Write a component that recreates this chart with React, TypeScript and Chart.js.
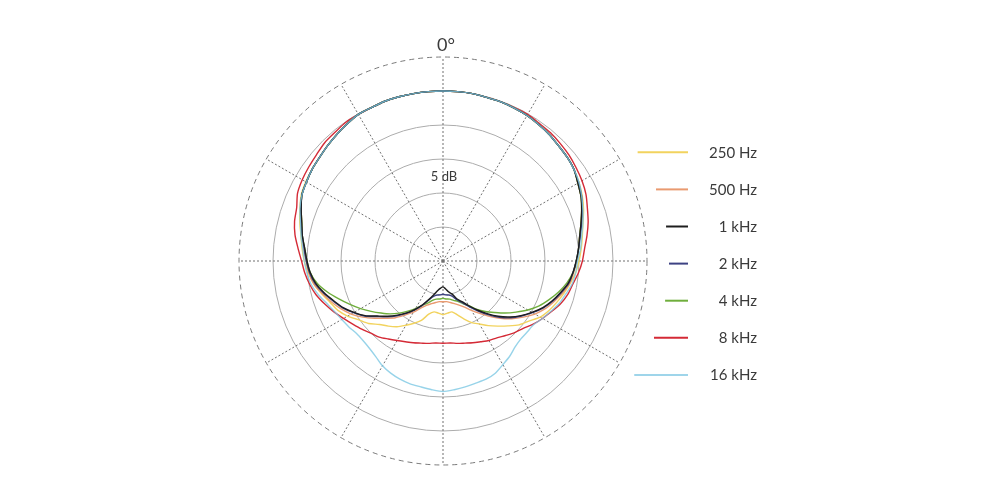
import React, { useEffect, useRef } from "react";
import { Chart, registerables } from "chart.js";

Chart.register(...registerables);

// Angles (degrees, clockwise from the top), one every 5°
const ANGLES = [
  0, 5, 10, 15, 20, 25, 30, 35, 40, 45, 50, 55, 60, 65, 70, 75, 80, 85,
  90, 95, 100, 105, 110, 115, 120, 125, 130, 135, 140, 145, 150, 155, 160, 165, 170, 175,
  180, 185, 190, 195, 200, 205, 210, 215, 220, 225, 230, 235, 240, 245, 250, 255, 260, 265,
  270, 275, 280, 285, 290, 295, 300, 305, 310, 315, 320, 325, 330, 335, 340, 345, 350, 355,
];

const SERIES_LABELS = ["250 Hz", "500 Hz", "1 kHz", "2 kHz", "4 kHz", "8 kHz", "16 kHz"];
const SERIES_COLORS = [
  "#f2d35e",
  "#e99a70",
  "#1e1e1e",
  "#3d4283",
  "#6fae3c",
  "#d42a36",
  "rgba(125,200,228,0.8)",
];

// Relative level in dB per angle
const DB_250HZ = [
  0, 0, 0, -0.1, -0.1, -0.2, -0.3, -0.5, -0.7, -1.0, -1.2, -1.5, -1.9, -2.4, -3.0, -3.7, -4.2, -4.6,
  -5.0, -5.4, -6.0, -6.6, -7.2, -7.8, -8.5, -9.6, -10.4, -11.5, -12.5, -13.4, -14.3, -15.0, -15.9, -16.8, -17.4, -17.3,
  -17.1, -17.3, -17.4, -16.9, -15.7, -14.9, -14.1, -13.2, -12.5, -11.8, -10.7, -9.9, -8.8, -7.9, -7.3, -6.5, -5.7, -5.1,
  -4.6, -4.2, -3.8, -3.2, -2.6, -2.0, -1.7, -1.5, -1.3, -1.0, -0.7, -0.4, -0.1, -0.1, 0, 0, 0, 0,
];
const DB_500HZ = [
  0, 0, 0, -0.1, -0.1, -0.2, -0.3, -0.5, -0.7, -1.0, -1.2, -1.5, -2.1, -2.6, -3.3, -4.0, -4.6, -5.0,
  -5.3, -5.7, -6.1, -6.8, -7.6, -8.4, -9.4, -10.6, -11.8, -13.1, -14.4, -15.6, -16.6, -17.5, -18.1, -18.5, -18.8, -19.0,
  -19.0, -19.0, -18.8, -18.5, -18.1, -17.4, -16.3, -15.3, -14.1, -13.1, -11.9, -10.6, -9.4, -8.4, -7.5, -6.6, -5.7, -5.2,
  -4.9, -4.4, -4.0, -3.5, -2.8, -2.1, -1.8, -1.5, -1.3, -1.0, -0.7, -0.4, -0.1, -0.1, 0, 0, 0, 0,
];
const DB_1KHZ = [
  0, 0, 0, -0.1, -0.1, -0.2, -0.3, -0.5, -0.7, -1.0, -1.2, -1.5, -2.1, -2.6, -3.3, -4.0, -4.6, -5.0,
  -5.4, -5.8, -6.3, -7.1, -7.9, -8.8, -9.9, -11.0, -12.2, -13.5, -14.9, -16.2, -17.4, -18.4, -19.1, -20.0, -20.4, -20.9,
  -21.2, -21.0, -20.6, -19.9, -19.0, -17.9, -16.8, -15.7, -14.6, -13.5, -12.4, -11.0, -9.9, -8.8, -7.9, -6.9, -6.0, -5.4,
  -5.0, -4.6, -4.0, -3.5, -2.8, -2.1, -1.8, -1.5, -1.3, -1.0, -0.7, -0.4, -0.1, -0.1, 0, 0, 0, 0,
];
const DB_2KHZ = [
  0, 0, 0, -0.1, -0.1, -0.2, -0.3, -0.5, -0.7, -1.0, -1.2, -1.5, -2.0, -2.5, -3.2, -3.9, -4.5, -5.0,
  -5.4, -5.8, -6.2, -7.0, -7.8, -8.7, -9.8, -10.9, -12.0, -13.3, -14.7, -16.0, -17.2, -18.2, -18.9, -19.6, -19.9, -20.0,
  -20.1, -20.0, -19.9, -19.6, -18.9, -17.8, -16.7, -15.6, -14.5, -13.4, -12.3, -10.9, -9.8, -8.7, -7.8, -6.8, -5.9, -5.3,
  -4.9, -4.5, -4.0, -3.4, -2.8, -2.1, -1.8, -1.5, -1.3, -1.0, -0.7, -0.4, -0.1, -0.1, 0, 0, 0, 0,
];
const DB_4KHZ = [
  0, 0, 0, -0.1, -0.1, -0.2, -0.3, -0.5, -0.7, -1.0, -1.2, -1.5, -2.1, -2.6, -3.3, -4.0, -4.6, -5.0,
  -5.4, -5.8, -6.5, -7.4, -8.4, -9.4, -10.6, -11.9, -13.1, -14.3, -15.3, -16.3, -17.4, -18.1, -18.7, -19.0, -19.3, -19.4,
  -19.5, -19.4, -19.3, -19.0, -18.4, -17.8, -16.9, -16.0, -15.0, -14.0, -13.1, -12.1, -11.0, -9.9, -8.7, -7.4, -6.2, -5.4,
  -5.0, -4.6, -4.0, -3.5, -2.8, -2.1, -1.8, -1.5, -1.3, -1.0, -0.7, -0.4, -0.1, -0.1, 0, 0, 0, 0,
];
const DB_8KHZ = [
  0, 0, 0, -0.1, -0.1, -0.1, -0.1, -0.3, -0.4, -0.6, -0.8, -1.1, -1.4, -1.8, -2.4, -2.9, -3.5, -4.1,
  -4.5, -5.0, -5.6, -6.0, -6.6, -7.4, -8.1, -8.8, -9.6, -10.1, -10.7, -11.2, -11.5, -11.9, -12.2, -12.5, -12.7, -12.9,
  -12.9, -12.9, -12.7, -12.5, -12.2, -11.9, -11.5, -11.0, -10.4, -10.0, -9.4, -8.8, -8.1, -7.3, -6.5, -5.7, -5.1, -4.6,
  -4.2, -3.6, -2.9, -2.4, -2.1, -1.4, -1.1, -0.9, -0.7, -0.4, -0.3, -0.1, -0.1, -0.1, 0, 0, 0, 0,
];
const DB_16KHZ = [
  0, 0, 0, -0.1, -0.1, -0.2, -0.3, -0.5, -0.7, -1.0, -1.2, -1.5, -1.9, -2.5, -3.1, -3.7, -4.3, -4.7,
  -5.2, -5.4, -5.7, -6.3, -6.8, -7.5, -8.1, -8.7, -8.8, -8.8, -8.5, -7.9, -7.4, -6.8, -6.5, -6.4, -6.2, -6.0,
  -5.8, -6.0, -6.2, -6.3, -6.5, -6.8, -7.2, -7.8, -8.2, -8.4, -8.4, -8.1, -7.8, -7.4, -6.8, -6.0, -5.3, -4.9,
  -4.6, -4.3, -3.8, -3.3, -2.6, -2.1, -1.8, -1.5, -1.3, -1.0, -0.7, -0.4, -0.1, -0.1, 0, 0, 0, 0,
];

const SERIES_VALUES = [DB_250HZ, DB_500HZ, DB_1KHZ, DB_2KHZ, DB_4KHZ, DB_8KHZ, DB_16KHZ];
// drawing order (lower = on top)
const SERIES_ORDER = [5, 4, 1, 2, 3, 6, 0];

const SCALE_MIN = -25;
const SCALE_MAX = 5;
const SCALE_STEP = 5;
const RING_LABEL = "5 dB";
const TOP_LABEL = "0°";

const FONT = "Lato, 'Open Sans', sans-serif";
const LEGEND_COLORS = ["#f2d35e", "#e99a70", "#1e1e1e", "#3d4283", "#6fae3c", "#d42a36", "#9fd5ea"];

const overlayPlugin = {
  id: "overlay",
  afterDraw(chart: any) {
    const ctx = chart.ctx as CanvasRenderingContext2D;
    const s = chart.scales.r;
    const cx = s.xCenter;
    const cy = s.yCenter;
    const R = s.drawingArea;
    ctx.save();
    ctx.fillStyle = "#3a3a3a";
    ctx.textBaseline = "alphabetic";
    ctx.font = `18px ${FONT}`;
    ctx.textAlign = "center";
    ctx.fillText(TOP_LABEL, cx + 3, cy - R - 6);
    ctx.font = `13px ${FONT}`;
    ctx.fillText(RING_LABEL, cx + 1, cy - s.getDistanceFromCenterForValue(-12.5) + 5);
    ctx.font = `15px ${FONT}`;
    ctx.textAlign = "right";
    const top = 152.3;
    const step = 37.1;
    const lineEnd = 688;
    const textRight = 757;
    chart.data.datasets.forEach((ds: any, i: number) => {
      const y = top + i * step;
      const dy = y - cy;
      const xStart = cx + Math.sqrt(Math.max(0, R * R - dy * dy)) + 22;
      ctx.strokeStyle = LEGEND_COLORS[i];
      ctx.lineWidth = 2;
      ctx.setLineDash([]);
      ctx.beginPath();
      ctx.moveTo(xStart, y);
      ctx.lineTo(lineEnd, y);
      ctx.stroke();
      ctx.fillStyle = "#3a3a3a";
      ctx.fillText(ds.label, textRight, y + 5.5);
    });
    ctx.restore();
  },
};

export default function App() {
  const canvasRef = useRef<HTMLCanvasElement | null>(null);

  useEffect(() => {
    if (!canvasRef.current) return;
    const datasets = SERIES_LABELS.map((label, i) => ({
      label,
      data: SERIES_VALUES[i],
      borderColor: SERIES_COLORS[i],
      backgroundColor: "transparent",
      borderWidth: 1.4,
      fill: false,
      pointRadius: 0,
      order: SERIES_ORDER[i],
    }));
    const chart = new Chart(canvasRef.current, {
      type: "radar",
      data: { labels: ANGLES.map((a) => `${a}°`), datasets },
      options: {
        responsive: false,
        animation: false,
        layout: { padding: { left: 239, right: 353, top: 57, bottom: 35 } },
        plugins: { legend: { display: false }, tooltip: { enabled: false } },
        elements: { point: { radius: 0 }, line: { tension: 0.25 } },
        scales: {
          r: {
            min: SCALE_MIN,
            max: SCALE_MAX,
            ticks: { display: false, stepSize: SCALE_STEP },
            pointLabels: { display: false },
            grid: {
              circular: true,
              color: (c: any) => (c.index === 6 ? "#7a7a7a" : "#acacac"),
              lineWidth: 1,
            },
            border: { dash: (c: any) => (c.index === 6 ? [5, 4] : []) } as any,
            angleLines: {
              color: "#707070",
              lineWidth: (c: any) => (c.index % 6 === 0 ? 1 : 0),
              borderDash: [2, 2],
            },
          },
        },
      } as any,
      plugins: [overlayPlugin],
    });
    return () => chart.destroy();
  }, []);

  return (
    <div style={{ position: "fixed", left: 0, top: 0, width: 1000, height: 500, background: "#fff" }}>
      <canvas ref={canvasRef} width={1000} height={500} style={{ display: "block" }} />
    </div>
  );
}
